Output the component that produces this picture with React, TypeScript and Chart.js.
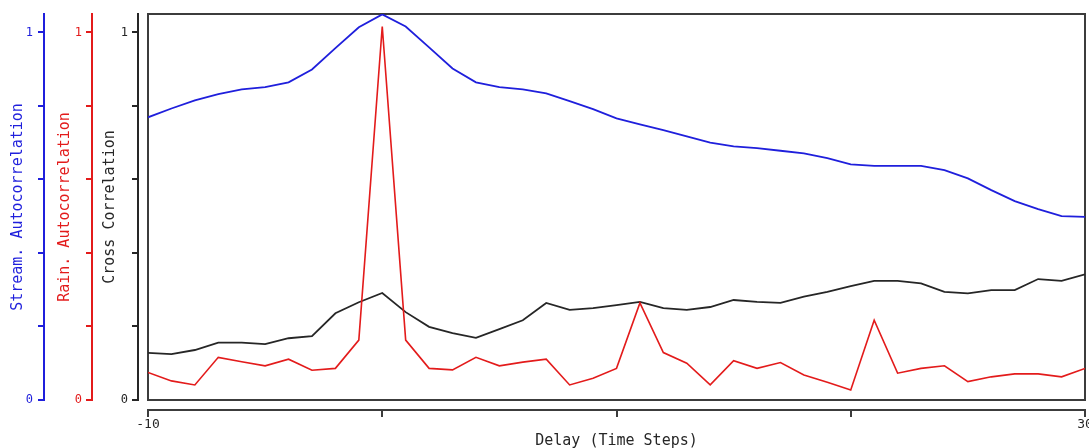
import React, { useEffect, useRef } from "react";
import { Chart, registerables } from "chart.js";

Chart.register(...registerables);

// ---- data ----
const delays = [
  -10, -9, -8, -7, -6, -5, -4, -3, -2, -1, 0, 1, 2, 3, 4, 5, 6, 7, 8, 9, 10,
  11, 12, 13, 14, 15, 16, 17, 18, 19, 20, 21, 22, 23, 24, 25, 26, 27, 28, 29, 30,
];

const streamAuto = [
  0.769, 0.793, 0.815, 0.832, 0.845, 0.851, 0.864, 0.899, 0.957, 1.014, 1.049,
  1.016, 0.959, 0.902, 0.864, 0.851, 0.845, 0.834, 0.813, 0.791, 0.766,
  0.75, 0.734, 0.717, 0.7, 0.69, 0.685, 0.678, 0.671, 0.658, 0.641,
  0.637, 0.637, 0.637, 0.625, 0.603, 0.571, 0.541, 0.519, 0.5, 0.498,
];

const rainAuto = [
  0.075, 0.052, 0.041, 0.116, 0.104, 0.093, 0.111, 0.081, 0.086, 0.163, 1.016,
  0.163, 0.086, 0.082, 0.116, 0.093, 0.103, 0.111, 0.041, 0.059, 0.086,
  0.264, 0.129, 0.1, 0.041, 0.107, 0.086, 0.102, 0.068, 0.048, 0.027,
  0.217, 0.073, 0.086, 0.093, 0.05, 0.063, 0.071, 0.071, 0.063, 0.086,
];

const crossCorr = [
  0.128, 0.125, 0.136, 0.156, 0.156, 0.152, 0.168, 0.174, 0.236, 0.266, 0.291,
  0.239, 0.199, 0.182, 0.169, 0.193, 0.217, 0.264, 0.245, 0.25, 0.258,
  0.267, 0.25, 0.245, 0.253, 0.272, 0.267, 0.264, 0.281, 0.294, 0.31,
  0.324, 0.324, 0.317, 0.294, 0.29, 0.299, 0.299, 0.329, 0.324, 0.342,
];

const xTickValues = [-10, 0, 10, 20, 30];
const xLabeledTicks = [-10, 30];
const yTickValues = [0, 0.2, 0.4, 0.6, 0.8, 1];
const yLabeledTicks = [0, 1];

const BLUE = "#1f1fdc";
const RED = "#e31b1b";
const BLACK = "#262626";
const FRAME = "#3c3c3c";

const MONO = "'DejaVu Sans Mono', 'Liberation Mono', monospace";

const axisLinePlugin = {
  id: "axisLines",
  beforeDatasetsDraw(chart: any) {
    const { ctx, chartArea: a } = chart;
    ctx.save();
    ctx.strokeStyle = FRAME;
    ctx.lineWidth = 2;
    ctx.strokeRect(a.left, a.top, a.right - a.left, a.bottom - a.top);
    ctx.restore();
  },
  afterDraw(chart: any) {
    const { ctx, chartArea: a, scales } = chart;
    ctx.save();
    ctx.lineWidth = 2;
    const ids: [string, string][] = [
      ["yStream", BLUE],
      ["yRain", RED],
      ["yCross", BLACK],
    ];
    for (const [id, col] of ids) {
      const s = scales[id];
      const x = Math.round(s.right - 10);
      ctx.strokeStyle = col;
      ctx.beginPath();
      ctx.moveTo(x, a.top - 1);
      ctx.lineTo(x, a.bottom + 1);
      for (const t of s.ticks) {
        const y = Math.round(s.getPixelForValue(t.value));
        ctx.moveTo(x - 6, y);
        ctx.lineTo(x, y);
      }
      ctx.stroke();
    }
    const xs = scales.x;
    const y0 = Math.round(xs.top + 10);
    ctx.strokeStyle = FRAME;
    ctx.beginPath();
    ctx.moveTo(a.left - 1, y0);
    ctx.lineTo(a.right + 1, y0);
    for (const t of xs.ticks) {
      const x = Math.round(xs.getPixelForValue(t.value));
      ctx.moveTo(x, y0);
      ctx.lineTo(x, y0 + 7);
    }
    ctx.stroke();
    ctx.restore();
  },
};

function yAxis(
  color: string,
  title: string,
  width: number,
  titlePad: number,
  labelPad: number,
  weight: number
) {
  return {
    type: "linear" as const,
    position: "left" as const,
    weight,
    min: 0,
    max: 1.05,
    grid: { display: false, drawTicks: false },
    border: { display: false },
    afterBuildTicks: (s: any) => {
      s.ticks = yTickValues.map((v) => ({ value: v }));
    },
    afterFit: (s: any) => {
      s.width = width;
      s.paddingTop = 0;
      s.paddingBottom = 0;
      s.paddingLeft = 0;
      s.paddingRight = 0;
    },
    ticks: {
      color,
      padding: labelPad,
      font: { family: MONO, size: 12 },
      callback: (v: any) => (yLabeledTicks.includes(Number(v)) ? String(v) : ""),
    },
    title: {
      display: true,
      text: title,
      color,
      font: { family: MONO, size: 15, lineHeight: 1 },
      padding: { top: titlePad, bottom: 0 },
    },
  };
}

export default function App() {
  const ref = useRef<HTMLCanvasElement | null>(null);

  useEffect(() => {
    if (!ref.current) return;
    const mk = (vals: number[]) => delays.map((d, i) => ({ x: d, y: vals[i] }));
    const chart = new Chart(ref.current, {
      type: "line",
      data: {
        datasets: [
          {
            label: "Stream. Autocorrelation",
            data: mk(streamAuto),
            yAxisID: "yStream",
            borderColor: BLUE,
            borderWidth: 1.8,
            pointRadius: 0,
            tension: 0,
          },
          {
            label: "Rain. Autocorrelation",
            data: mk(rainAuto),
            yAxisID: "yRain",
            borderColor: RED,
            borderWidth: 1.6,
            pointRadius: 0,
            tension: 0,
          },
          {
            label: "Cross Correlation",
            data: mk(crossCorr),
            yAxisID: "yCross",
            borderColor: BLACK,
            borderWidth: 1.8,
            pointRadius: 0,
            tension: 0,
          },
        ],
      },
      options: {
        responsive: false,
        animation: false,
        devicePixelRatio: 1,
        layout: { padding: { left: 0, top: 14, right: 4, bottom: 0 } },
        plugins: {
          legend: { display: false },
          tooltip: { enabled: false },
        },
        scales: {
          x: {
            type: "linear",
            position: "bottom",
            min: -10,
            max: 30,
            grid: { display: false, drawTicks: false },
            border: { display: false },
            afterBuildTicks: (s: any) => {
              s.ticks = xTickValues.map((v) => ({ value: v }));
            },
            afterFit: (s: any) => {
              s.height = 48;
              s.paddingLeft = 0;
              s.paddingRight = 0;
              s.paddingTop = 0;
              s.paddingBottom = 0;
            },
            ticks: {
              color: BLACK,
              padding: 17,
              maxRotation: 0,
              autoSkip: false,
              font: { family: MONO, size: 13 },
              callback: (v: any) =>
                xLabeledTicks.includes(Number(v)) ? String(v) : "",
            },
            title: {
              display: true,
              text: "Delay (Time Steps)",
              color: BLACK,
              font: { family: MONO, size: 15, lineHeight: 1 },
              padding: { top: 0, bottom: -0.5 },
            },
          },
          yStream: yAxis(BLUE, "Stream. Autocorrelation", 54, 10.5, 21, 3),
          yRain: yAxis(RED, "Rain. Autocorrelation", 48, 3.5, 20, 2),
          yCross: yAxis(BLACK, "Cross Correlation", 46, 0.5, 20, 1),
        },
      },
      plugins: [axisLinePlugin],
    } as any);
    return () => chart.destroy();
  }, []);

  return (
    <div
      style={{
        position: "fixed",
        left: 0,
        top: 0,
        width: 1089,
        height: 448,
        background: "#ffffff",
        overflow: "hidden",
      }}
    >
      <canvas ref={ref} width={1089} height={448} style={{ display: "block" }} />
    </div>
  );
}
